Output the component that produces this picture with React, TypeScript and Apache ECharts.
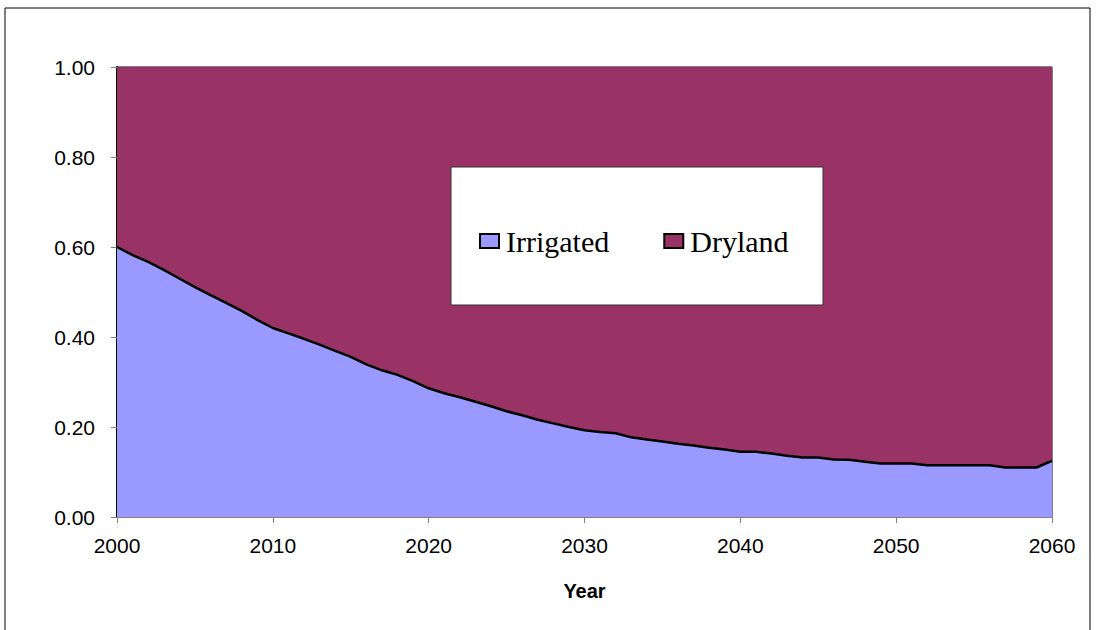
import React, { useEffect, useRef } from "react";
import * as echarts from "echarts";

// Years 2000–2060
const years: number[] = [];
for (let y = 2000; y <= 2060; y++) years.push(y);

// Share of irrigated land, by year
const irrigated: number[] = [
  0.600, 0.582, 0.567, 0.549, 0.530, 0.511, 0.493, 0.476, 0.458, 0.438,
  0.420, 0.408, 0.396, 0.383, 0.369, 0.356, 0.339, 0.326, 0.316, 0.302,
  0.286, 0.275, 0.266, 0.256, 0.246, 0.235, 0.226, 0.216, 0.208, 0.200,
  0.193, 0.189, 0.186, 0.177, 0.172, 0.168, 0.163, 0.159, 0.154, 0.150,
  0.145, 0.145, 0.141, 0.136, 0.132, 0.132, 0.128, 0.127, 0.123, 0.119,
  0.119, 0.119, 0.115, 0.115, 0.115, 0.115, 0.115, 0.110, 0.110, 0.110,
  0.125,
];

// Dryland is the remaining share
const dryland: number[] = irrigated.map((v) => +(1 - v).toFixed(3));

const yTicks = { min: 0, max: 1, interval: 0.2 };
const xLabelStep = 10;

export default function App() {
  const ref = useRef<HTMLDivElement>(null);

  useEffect(() => {
    if (!ref.current) return;
    const chart = echarts.init(ref.current, undefined, { renderer: "svg" });
    const sans = "'Liberation Sans', Arial, sans-serif";
    const serif = "'Liberation Serif', 'Times New Roman', serif";
    const everyTen = (_i: number, v: string) => Number(v) % xLabelStep === 0;

    chart.setOption({
      animation: false,
      backgroundColor: "#ffffff",
      graphic: [
        {
          type: "rect",
          shape: { x: 5, y: 8, width: 1085, height: 640 },
          style: { fill: "none", stroke: "#000", lineWidth: 1 },
          z: 0,
        },
        {
          type: "rect",
          shape: { x: 451, y: 167, width: 372, height: 138 },
          style: { fill: "#ffffff", stroke: "#333", lineWidth: 1 },
          z: 10,
        },
      ],
      legend: {
        data: [
          { name: "Irrigated", itemStyle: { color: "#9999FF", borderColor: "#000", borderWidth: 2 } },
          { name: "Dryland", itemStyle: { color: "#993366", borderColor: "#000", borderWidth: 2 } },
        ],
        left: 474,
        top: 221,
        itemWidth: 19,
        itemHeight: 14,
        itemGap: 54,
        icon: "rect",
        z: 20,
        textStyle: { fontFamily: serif, fontSize: 30, color: "#000", padding: [0, 0, 0, 2] },
      },
      grid: {
        left: 117,
        right: 44,
        top: 67,
        bottom: 113,
        show: true,
        borderColor: "#000",
        borderWidth: 1,
        backgroundColor: "transparent",
      },
      xAxis: {
        type: "category",
        boundaryGap: false,
        data: years.map(String),
        name: "Year",
        nameLocation: "middle",
        nameGap: 64,
        nameTextStyle: { fontFamily: sans, fontSize: 20, fontWeight: "bold", color: "#000" },
        axisLine: { show: true, lineStyle: { color: "#808080", width: 1 } },
        axisTick: { show: true, length: 6, interval: everyTen, lineStyle: { color: "#808080" } },
        axisLabel: {
          fontFamily: sans,
          fontSize: 21,
          color: "#000",
          margin: 18,
          interval: everyTen,
        },
        splitLine: { show: false },
      },
      yAxis: {
        type: "value",
        min: yTicks.min,
        max: yTicks.max,
        interval: yTicks.interval,
        axisLine: { show: true, lineStyle: { color: "#000", width: 2 } },
        axisTick: { show: true, length: 6, lineStyle: { color: "#808080" } },
        axisLabel: {
          fontFamily: sans,
          fontSize: 21,
          color: "#000",
          margin: 22,
          formatter: (v: number) => v.toFixed(2),
        },
        splitLine: { show: false },
      },
      series: [
        {
          name: "Irrigated",
          type: "line",
          stack: "share",
          symbol: "none",
          z: 3,
          data: irrigated,
          lineStyle: { color: "#000", width: 2.5 },
          itemStyle: { color: "#9999FF" },
          areaStyle: { color: "#9999FF", opacity: 1 },
        },
        {
          name: "Dryland",
          type: "line",
          stack: "share",
          symbol: "none",
          z: 2,
          data: dryland,
          lineStyle: { width: 0, color: "#993366" },
          itemStyle: { color: "#993366" },
          areaStyle: { color: "#993366", opacity: 1 },
        },
      ],
    });

    return () => chart.dispose();
  }, []);

  return (
    <div
      ref={ref}
      style={{ position: "fixed", left: 0, top: 0, width: 1096, height: 630 }}
    />
  );
}
